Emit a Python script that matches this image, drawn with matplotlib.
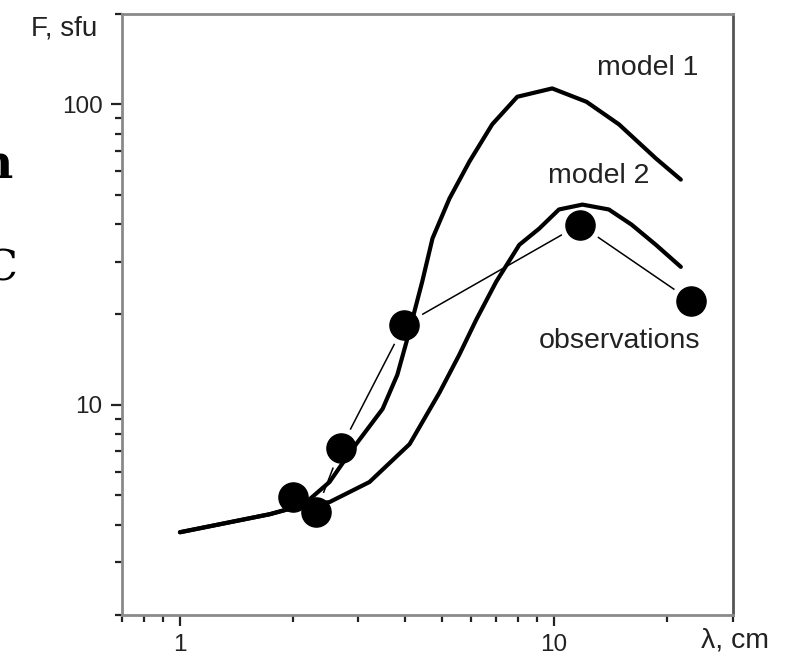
import matplotlib.pyplot as plt
from matplotlib.ticker import LogLocator, NullFormatter, FixedLocator, FixedFormatter

# model 1 (lambda in cm, flux in sfu)
lam_m1 = [1.0, 1.74, 2.13, 2.51, 2.89, 3.48, 3.81, 4.03, 4.23, 4.44, 4.73,
          5.25, 5.94, 6.83, 7.97, 9.88, 12.2, 14.9, 18.7, 21.8]
flux_m1 = [3.77, 4.33, 4.64, 5.54, 7.13, 9.7, 12.6, 16.2, 20.4, 25.7, 35.8,
           48.6, 64.6, 85.8, 106, 113, 102, 85.8, 66.1, 56.2]

# model 2
lam_m2 = [1.0, 1.74, 2.13, 2.51, 3.21, 4.11, 4.94, 5.58, 6.19, 7.0, 8.07,
          9.12, 10.3, 11.9, 14.0, 16.1, 18.7, 21.8]
flux_m2 = [3.77, 4.33, 4.64, 4.75, 5.54, 7.41, 11.0, 14.7, 19.2, 25.7, 34.1,
           38.6, 44.7, 46.4, 44.7, 39.8, 34.1, 28.8]

# observations
lam_obs = [2.0, 2.31, 2.69, 3.98, 11.7, 23.2]
flux_obs = [4.94, 4.40, 7.19, 18.5, 39.8, 22.2]

xticks = [1, 10]
xtick_labels = ['1', '10']
yticks = [10, 100]
ytick_labels = ['10', '100']

plt.rcParams['font.family'] = ['Liberation Sans', 'DejaVu Sans']

fig = plt.figure(figsize=(7.87, 6.62), dpi=100)
ax = fig.add_axes([0.155, 0.071, 0.776, 0.908])

# thin line joining the observations, with gaps near the dots
ax.plot(lam_obs, flux_obs, color='black', lw=1.1, zorder=2)
ax.plot(lam_obs, flux_obs, 'o', ms=29, color='white', mec='white', zorder=3)

ax.plot(lam_m1, flux_m1, color='black', lw=3, zorder=4, solid_capstyle='round')
ax.plot(lam_m2, flux_m2, color='black', lw=3, zorder=4, solid_capstyle='round')
ax.plot(lam_obs, flux_obs, 'o', ms=21, color='black', zorder=5)

ax.set_xscale('log')
ax.set_yscale('log')
ax.set_xlim(0.7, 30)
ax.set_ylim(2, 200)

ax.xaxis.set_major_locator(FixedLocator(xticks))
ax.xaxis.set_major_formatter(FixedFormatter(xtick_labels))
ax.yaxis.set_major_locator(FixedLocator(yticks))
ax.yaxis.set_major_formatter(FixedFormatter(ytick_labels))
ax.xaxis.set_minor_locator(LogLocator(base=10, subs=range(2, 10)))
ax.yaxis.set_minor_locator(LogLocator(base=10, subs=range(2, 10)))
ax.xaxis.set_minor_formatter(NullFormatter())
ax.yaxis.set_minor_formatter(NullFormatter())

ax.tick_params(which='major', direction='out', length=8, width=1.6,
               labelsize=17.5, colors='#222222', pad=6)
ax.tick_params(which='minor', direction='out', length=5, width=1.6, colors='#222222')

for side in ['left', 'bottom', 'top']:
    ax.spines[side].set_color('#8a8a8a')
    ax.spines[side].set_linewidth(2)
ax.spines['right'].set_color('#555555')
ax.spines['right'].set_linewidth(2)

ax.text(0.86, 0.91, 'model 1', transform=ax.transAxes, fontsize=20.5,
        ha='center', va='center', color='#222222')
ax.text(0.78, 0.73, 'model 2', transform=ax.transAxes, fontsize=20.5,
        ha='center', va='center', color='#222222')
ax.text(0.815, 0.456, 'observations', transform=ax.transAxes, fontsize=20.5,
        ha='center', va='center', color='#222222')

fig.text(0.081, 0.957, 'F, sfu', fontsize=20, ha='center', va='center', color='#222222')
fig.text(0.934, 0.033, 'λ, cm', fontsize=20.5, ha='center', va='center', color='#222222')

# slide fragments at the left border
fig.text(0.016, 0.75, 'n', fontsize=34, ha='right', va='center',
         family='DejaVu Serif', weight='bold')
fig.text(0.022, 0.595, 'C', fontsize=30, ha='right', va='center',
         family='DejaVu Serif')

fig.savefig('out.png', dpi=100)
